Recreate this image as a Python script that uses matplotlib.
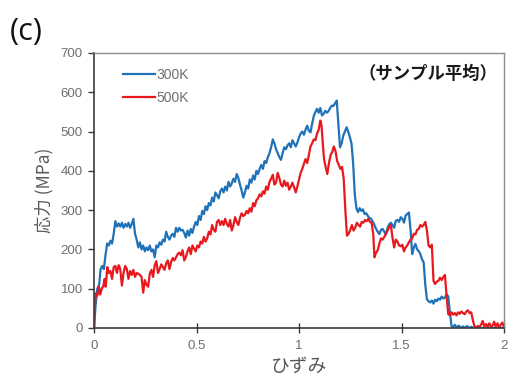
import numpy as np
import matplotlib
matplotlib.use("Agg")
import matplotlib.pyplot as plt

plt.rcParams['font.family'] = ['Liberation Sans', 'Noto Sans CJK JP', 'DejaVu Sans']

# 300K stress-strain (sample average)
strain_300 = [
    0.000, 0.008, 0.016, 0.025, 0.032, 0.040, 0.048, 0.056, 0.064, 0.072,
    0.080, 0.088, 0.096, 0.104, 0.112, 0.120, 0.128, 0.136, 0.144, 0.152,
    0.160, 0.168, 0.176, 0.184, 0.192, 0.200, 0.208, 0.216, 0.224, 0.232,
    0.240, 0.248, 0.256, 0.264, 0.272, 0.280, 0.288, 0.296, 0.304, 0.312,
    0.320, 0.328, 0.336, 0.344, 0.352, 0.360, 0.368, 0.376, 0.384, 0.392,
    0.400, 0.408, 0.416, 0.424, 0.432, 0.440, 0.448, 0.456, 0.464, 0.472,
    0.480, 0.488, 0.496, 0.504, 0.512, 0.520, 0.528, 0.536, 0.544, 0.552,
    0.560, 0.568, 0.576, 0.584, 0.592, 0.600, 0.608, 0.616, 0.624, 0.632,
    0.640, 0.648, 0.656, 0.664, 0.672, 0.680, 0.688, 0.696, 0.704, 0.712,
    0.720, 0.728, 0.736, 0.744, 0.752, 0.760, 0.768, 0.776, 0.784, 0.792,
    0.800, 0.808, 0.816, 0.824, 0.832, 0.840, 0.848, 0.856, 0.864, 0.872,
    0.880, 0.888, 0.896, 0.904, 0.912, 0.920, 0.928, 0.936, 0.944, 0.952,
    0.960, 0.968, 0.976, 0.984, 0.992, 1.000, 1.008, 1.016, 1.024, 1.032,
    1.040, 1.048, 1.056, 1.064, 1.072, 1.080, 1.088, 1.096, 1.104, 1.112,
    1.120, 1.128, 1.136, 1.144, 1.152, 1.160, 1.168, 1.176, 1.184, 1.192,
    1.200, 1.208, 1.216, 1.224, 1.232, 1.240, 1.248, 1.256, 1.264, 1.272,
    1.280, 1.288, 1.296, 1.304, 1.312, 1.320, 1.328, 1.336, 1.344, 1.352,
    1.360, 1.368, 1.376, 1.384, 1.392, 1.400, 1.408, 1.416, 1.424, 1.432,
    1.440, 1.448, 1.456, 1.464, 1.472, 1.480, 1.488, 1.496, 1.504, 1.512,
    1.520, 1.528, 1.536, 1.544, 1.552, 1.560, 1.568, 1.576, 1.584, 1.592,
    1.600, 1.608, 1.616, 1.624, 1.632, 1.640, 1.648, 1.656, 1.664, 1.672,
    1.680, 1.688, 1.696, 1.704, 1.712, 1.720, 1.728, 1.736, 1.744, 1.752,
    1.760, 1.770, 1.780, 1.790, 1.800, 1.810, 1.820, 1.830, 1.840, 1.850,
    2.000,
]
stress_300 = [
    0, 60, 100, 110, 150, 158, 150, 185, 215, 210,
    222, 215, 240, 272, 258, 266, 258, 268, 255, 265,
    258, 268, 255, 265, 278, 240, 225, 205, 218, 200,
    210, 195, 205, 198, 210, 195, 200, 180, 210, 205,
    218, 212, 225, 220, 245, 232, 225, 235, 240, 232,
    255, 245, 255, 248, 250, 242, 230, 248, 235, 252,
    242, 258, 270, 262, 285, 275, 298, 290, 310, 300,
    318, 312, 332, 322, 345, 338, 330, 348, 355, 345,
    360, 350, 372, 360, 368, 380, 372, 392, 382, 365,
    350, 332, 345, 362, 355, 378, 370, 388, 378, 400,
    392, 405, 415, 405, 425, 420, 435, 445, 460, 480,
    470, 455, 445, 435, 428, 445, 460, 455, 465, 470,
    460, 478, 470, 462, 472, 485, 495, 500, 492, 505,
    515, 502, 498, 520, 540, 550, 558, 548, 560, 541,
    545, 553, 548, 552, 560, 566, 565, 572, 579, 520,
    460, 470, 490, 500, 511, 500, 486, 470, 420, 340,
    305, 295, 305, 298, 302, 290, 292, 285, 280, 278,
    270, 262, 252, 245, 239, 250, 252, 245, 238, 255,
    264, 268, 262, 255, 273, 275, 270, 282, 278, 268,
    286, 290, 294, 250, 188, 205, 214, 200, 196, 188,
    175, 167, 110, 73, 68, 65, 70, 62, 72, 68,
    75, 72, 80, 75, 78, 86, 80, 40, 5, 2,
    8, 2, 6, 0, 4, 0, 5, 0, 3, 0,
    0,
]

# 500K stress-strain (sample average)
strain_500 = [
    0.000, 0.004, 0.008, 0.016, 0.024, 0.030, 0.038, 0.046, 0.052, 0.057,
    0.065, 0.072, 0.080, 0.088, 0.096, 0.104, 0.112, 0.120, 0.128, 0.136,
    0.144, 0.152, 0.160, 0.168, 0.176, 0.184, 0.192, 0.200, 0.208, 0.216,
    0.224, 0.232, 0.240, 0.248, 0.256, 0.264, 0.272, 0.280, 0.288, 0.296,
    0.304, 0.312, 0.320, 0.328, 0.336, 0.344, 0.352, 0.360, 0.368, 0.376,
    0.384, 0.392, 0.400, 0.408, 0.416, 0.424, 0.432, 0.440, 0.448, 0.456,
    0.464, 0.472, 0.480, 0.488, 0.496, 0.504, 0.512, 0.520, 0.528, 0.536,
    0.544, 0.552, 0.560, 0.568, 0.576, 0.584, 0.592, 0.600, 0.608, 0.616,
    0.624, 0.632, 0.640, 0.648, 0.656, 0.664, 0.672, 0.680, 0.688, 0.696,
    0.704, 0.712, 0.720, 0.728, 0.736, 0.744, 0.752, 0.760, 0.768, 0.776,
    0.784, 0.792, 0.800, 0.808, 0.816, 0.824, 0.832, 0.840, 0.848, 0.856,
    0.864, 0.872, 0.880, 0.888, 0.896, 0.904, 0.912, 0.920, 0.928, 0.936,
    0.944, 0.952, 0.960, 0.968, 0.976, 0.984, 0.992, 1.000, 1.008, 1.016,
    1.024, 1.032, 1.040, 1.048, 1.056, 1.064, 1.072, 1.080, 1.088, 1.096,
    1.104, 1.110, 1.116, 1.122, 1.130, 1.138, 1.146, 1.154, 1.162, 1.170,
    1.178, 1.186, 1.194, 1.202, 1.210, 1.218, 1.226, 1.234, 1.242, 1.250,
    1.258, 1.266, 1.274, 1.282, 1.290, 1.298, 1.306, 1.314, 1.322, 1.330,
    1.338, 1.346, 1.354, 1.362, 1.368, 1.376, 1.384, 1.392, 1.400, 1.408,
    1.416, 1.424, 1.432, 1.440, 1.448, 1.456, 1.464, 1.472, 1.480, 1.488,
    1.496, 1.504, 1.512, 1.520, 1.528, 1.536, 1.544, 1.552, 1.560, 1.568,
    1.576, 1.584, 1.592, 1.600, 1.608, 1.616, 1.624, 1.632, 1.640, 1.648,
    1.656, 1.664, 1.672, 1.680, 1.688, 1.696, 1.704, 1.712, 1.720, 1.728,
    1.736, 1.744, 1.752, 1.760, 1.768, 1.776, 1.784, 1.792, 1.800, 1.808,
    1.816, 1.824, 1.832, 1.840, 1.848, 1.856, 1.864, 1.872, 1.880, 1.888,
    1.896, 1.904, 1.912, 1.920, 1.928, 1.936, 1.944, 1.952, 1.960, 1.968,
    1.976, 1.984, 1.992, 2.000,
]
stress_500 = [
    0, 55, 88, 82, 105, 85, 100, 108, 125, 105,
    155, 140, 145, 125, 155, 158, 140, 160, 150, 108,
    140, 158, 150, 125, 145, 135, 148, 130, 140, 138,
    135, 130, 90, 122, 110, 105, 138, 148, 130, 160,
    170, 140, 150, 162, 155, 148, 165, 172, 150, 168,
    178, 172, 180, 188, 192, 185, 198, 172, 180, 195,
    205, 188, 210, 202, 195, 210, 205, 220, 215, 232,
    220, 228, 245, 238, 262, 250, 245, 270, 275, 262,
    272, 262, 278, 265, 258, 275, 248, 262, 282, 270,
    262, 280, 292, 285, 288, 298, 292, 305, 296, 318,
    310, 325, 330, 340, 335, 348, 342, 360, 352, 372,
    380, 390, 365, 370, 395, 382, 365, 360, 375, 362,
    370, 352, 360, 370, 358, 345, 360, 378, 395, 405,
    418, 430, 420, 440, 462, 470, 480, 478, 495, 505,
    528, 515, 470, 430, 410, 392, 420, 440, 448, 462,
    450, 425, 415, 405, 410, 380, 300, 235, 240, 250,
    262, 248, 255, 268, 262, 258, 270, 268, 275, 272,
    278, 270, 268, 240, 180, 192, 198, 215, 228, 225,
    232, 240, 248, 258, 262, 230, 205, 225, 220, 210,
    208, 212, 195, 205, 210, 218, 225, 228, 240, 238,
    250, 252, 262, 258, 262, 270, 248, 210, 205, 212,
    120, 112, 118, 120, 128, 122, 130, 135, 80, 35,
    32, 40, 34, 38, 32, 40, 36, 42, 38, 35,
    42, 45, 38, 40, 20, 4, 2, 5, 3, 8,
    18, 4, 10, 2, 12, 4, 6, 16, 3, 12,
    2, 8, 14, 2,
]

x_ticks = [0, 0.5, 1, 1.5, 2]
x_tick_labels = ['0', '0.5', '1', '1.5', '2']
y_ticks = [0, 100, 200, 300, 400, 500, 600, 700]

BLUE = '#1f72b8'
RED = '#e8191e'
TICK_GRAY = '#6e6e6e'
LABEL_GRAY = '#595959'

fig = plt.figure(figsize=(5.09, 3.78), dpi=100)
ax = fig.add_axes([0.1847, 0.1323, 0.8055, 0.7275])

ax.plot(strain_300, stress_300, color=BLUE, lw=1.6, label='300K')
ax.plot(strain_500, stress_500, color=RED, lw=1.6, label='500K')

ax.set_xlim(0, 2)
ax.set_ylim(0, 700)
ax.set_xticks(x_ticks)
ax.set_xticklabels(x_tick_labels)
ax.set_yticks(y_ticks)

for side in ('top', 'right'):
    ax.spines[side].set_color('#8c8c8c')
    ax.spines[side].set_linewidth(1.0)
for side in ('left', 'bottom'):
    ax.spines[side].set_color('#3a3a3a')
    ax.spines[side].set_linewidth(1.2)

ax.tick_params(axis='x', direction='inout', length=7, width=1, color='#3a3a3a',
               labelsize=9.5, labelcolor=TICK_GRAY, pad=5)
ax.tick_params(axis='y', direction='out', length=4, width=1, color='#3a3a3a',
               labelsize=9.5, labelcolor=TICK_GRAY, pad=4)

ax.set_xlabel('ひずみ', fontsize=13.5, color=LABEL_GRAY,
              family=['Noto Sans CJK JP', 'DejaVu Sans'], labelpad=3)
ax.set_ylabel('応力 (MPa)', fontsize=12.5, color=LABEL_GRAY,
              family=['Noto Sans CJK JP', 'DejaVu Sans'], labelpad=5)

leg = ax.legend(loc='upper left', bbox_to_anchor=(0.057, 0.965), frameon=False,
                fontsize=10, handlelength=2.3, handletextpad=0.1,
                labelspacing=0.65, borderaxespad=0)
for t in leg.get_texts():
    t.set_color(TICK_GRAY)

ax.text(0.985, 0.925, '（サンプル平均）', transform=ax.transAxes, ha='right', va='center',
        fontsize=12.5, fontweight='bold', color='#1a1a1a',
        family=['Noto Sans CJK JP', 'DejaVu Sans'])

fig.text(0.019, 0.893, '(c)', fontsize=22, color='#111111',
         family=['Open Sans', 'DejaVu Sans'], ha='left', va='baseline')

fig.savefig('out.png', dpi=100, facecolor='white')
